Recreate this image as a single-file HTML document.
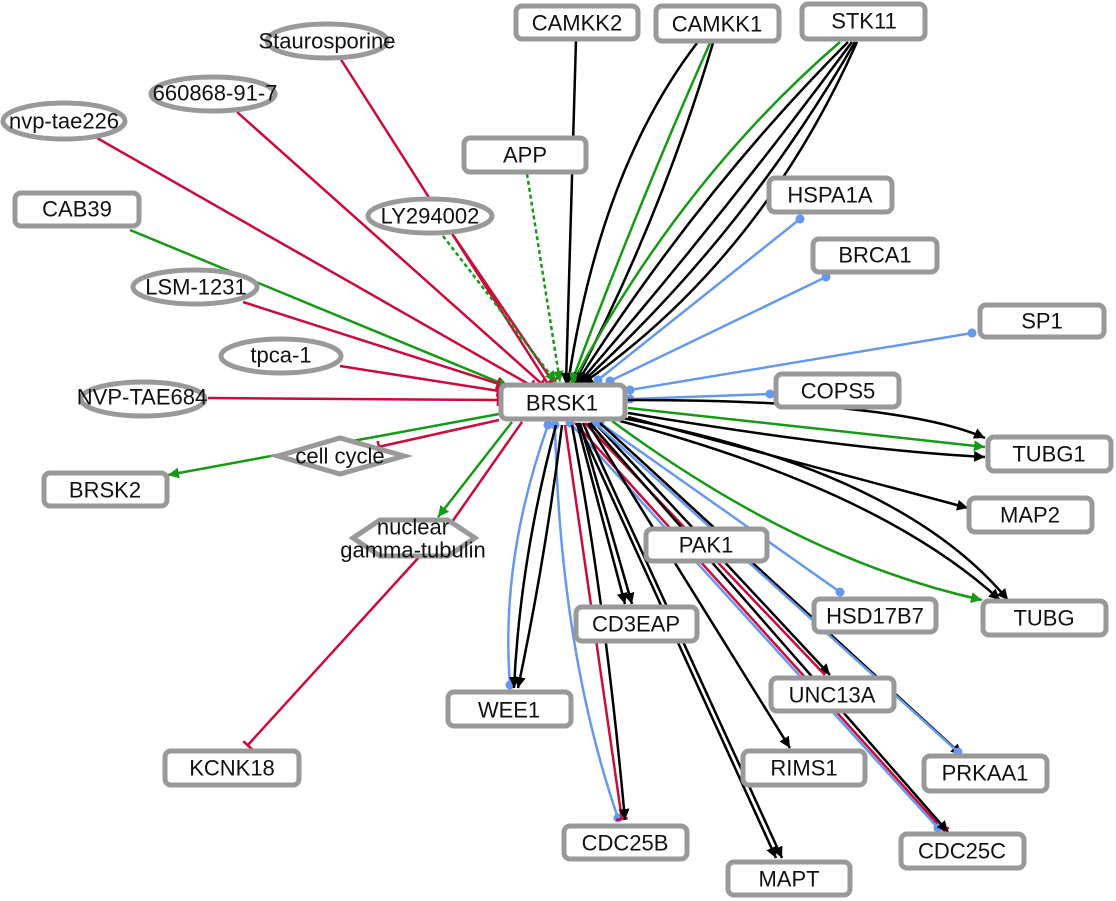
<!DOCTYPE html>
<html><head><meta charset="utf-8"><style>
html,body{margin:0;padding:0;background:#fff;}
svg{display:block;}
text{font-family:"Liberation Sans",sans-serif;font-size:22px;fill:#111;text-anchor:middle;dominant-baseline:central;}
.n{fill:#fff;stroke:#999;stroke-width:5;}
.k{stroke:#000;stroke-width:2.5;fill:none;}
.g{stroke:#169a16;stroke-width:2.5;fill:none;}
.r{stroke:#cc0a3c;stroke-width:2.5;fill:none;}
.b{stroke:#6699ee;stroke-width:2.5;fill:none;}
</style></head><body>
<svg width="1116" height="901" viewBox="0 0 1116 901" xmlns="http://www.w3.org/2000/svg">
<defs>
<marker id="ag" viewBox="0 0 10 10" refX="10" refY="5" markerWidth="11" markerHeight="11" orient="auto" markerUnits="userSpaceOnUse"><path d="M0,0L10,5L0,10z" fill="#169a16"/></marker>
<marker id="ab" viewBox="0 0 10 10" refX="10" refY="5" markerWidth="11" markerHeight="11" orient="auto" markerUnits="userSpaceOnUse"><path d="M0,0L10,5L0,10z" fill="#000"/></marker>
<marker id="tr" viewBox="0 0 4 12" refX="3" refY="6" markerWidth="4" markerHeight="12" orient="auto" markerUnits="userSpaceOnUse"><path d="M2,0V12" stroke="#cc0a3c" stroke-width="2.5"/></marker>
<marker id="db" viewBox="0 0 10 10" refX="5" refY="5" markerWidth="9" markerHeight="9" orient="auto" markerUnits="userSpaceOnUse"><circle cx="5" cy="5" r="5" fill="#6699ee"/></marker>
</defs>

<path class="r" d="M340,58 L548,384" marker-end="url(#tr)"/>
<path class="r" d="M237,112 L542,384" marker-end="url(#tr)"/>
<path class="r" d="M97,138 L532,386" marker-end="url(#tr)"/>
<path class="g" d="M130,230 L508,386" marker-end="url(#ag)"/>
<path class="r" d="M243,302 L499,384" marker-end="url(#tr)"/>
<path class="r" d="M340,366 L499,391" marker-end="url(#tr)"/>
<path class="r" d="M208,398 L499,400" marker-end="url(#tr)"/>
<path class="r" d="M453,235 L553,382" marker-end="url(#tr)"/>
<path class="g" d="M443,236 L556,382" stroke-dasharray="4,3" marker-end="url(#ag)"/>
<path class="g" d="M527,174 L560,382" stroke-dasharray="4,3" marker-end="url(#ag)"/>
<path class="k" d="M576,40 L566,384" marker-end="url(#ab)"/>
<path class="k" d="M697,43 Q600,170 568,384" marker-end="url(#ab)"/>
<path class="g" d="M710,43 Q640,200 571,384" marker-end="url(#ag)"/>
<path class="k" d="M713,43 Q660,220 574,384" marker-end="url(#ab)"/>
<path class="g" d="M840,42 Q680,180 572,384" marker-end="url(#ag)"/>
<path class="k" d="M848,42 Q700,190 576,384" marker-end="url(#ab)"/>
<path class="k" d="M852,42 Q720,220 578,384" marker-end="url(#ab)"/>
<path class="k" d="M855,42 Q740,240 580,384" marker-end="url(#ab)"/>
<path class="k" d="M857,42 Q760,260 582,384" marker-end="url(#ab)"/>
<path class="b" d="M800,219 L598,380" marker-start="url(#db)" marker-end="url(#db)"/>
<path class="b" d="M826,277 L610,381" marker-start="url(#db)" marker-end="url(#db)"/>
<path class="b" d="M972,333 L630,390" marker-start="url(#db)" marker-end="url(#db)"/>
<path class="b" d="M770,394 L630,399" marker-start="url(#db)" marker-end="url(#db)"/>
<path class="k" d="M628,400 Q900,400 985,438" marker-end="url(#ab)"/>
<path class="g" d="M628,408 L985,447" marker-end="url(#ag)"/>
<path class="k" d="M628,413 Q850,450 985,457" marker-end="url(#ab)"/>
<path class="k" d="M628,417 L968,508" marker-end="url(#ab)"/>
<path class="g" d="M612,421 Q800,560 982,600" marker-end="url(#ag)"/>
<path class="k" d="M620,421 Q880,490 1000,600" marker-end="url(#ab)"/>
<path class="k" d="M622,418 Q900,470 1008,600" marker-end="url(#ab)"/>
<path class="b" d="M600,423 L840,592" marker-start="url(#db)" marker-end="url(#db)"/>
<path class="k" d="M595,423 L830,675" marker-end="url(#ab)"/>
<path class="r" d="M585,423 L825,675"/>
<path class="k" d="M600,423 L962,755" marker-end="url(#ab)"/>
<path class="b" d="M595,423 L958,752" marker-start="url(#db)" marker-end="url(#db)"/>
<path class="r" d="M575,423 L945,832" marker-end="url(#tr)"/>
<path class="b" d="M570,423 L938,828" marker-start="url(#db)" marker-end="url(#db)"/>
<path class="k" d="M590,423 L948,832" marker-end="url(#ab)"/>
<path class="k" d="M588,423 L790,748" marker-end="url(#ab)"/>
<path class="k" d="M578,423 L776,858" marker-end="url(#ab)"/>
<path class="k" d="M583,423 L782,858" marker-end="url(#ab)"/>
<path class="k" d="M577,423 L625,604" marker-end="url(#ab)"/>
<path class="k" d="M580,423 L632,604" marker-end="url(#ab)"/>
<path class="b" d="M555,425 Q560,650 618,818" marker-start="url(#db)" marker-end="url(#db)"/>
<path class="r" d="M565,425 L622,820" marker-end="url(#tr)"/>
<path class="k" d="M572,425 Q605,600 625,820" marker-end="url(#ab)"/>
<path class="b" d="M548,425 Q500,560 510,685" marker-start="url(#db)" marker-end="url(#db)"/>
<path class="k" d="M556,425 Q520,560 514,688" marker-end="url(#ab)"/>
<path class="k" d="M562,425 Q545,560 518,688" marker-end="url(#ab)"/>
<path class="g" d="M499,414 L168,475" marker-end="url(#ag)"/>
<path class="r" d="M499,420 L378,447" marker-end="url(#tr)"/>
<path class="g" d="M512,422 L438,517" marker-end="url(#ag)"/>
<path class="r" d="M522,422 L452,522"/>
<path class="r" d="M420,556 L247,746" marker-end="url(#tr)"/>

<g>
<rect class="n" x="501" y="385" width="124" height="34" rx="6"/><text x="562" y="403">BRSK1</text>
<rect class="n" x="516" y="6" width="122" height="33" rx="6"/><text x="577" y="23">CAMKK2</text>
<rect class="n" x="656" y="6" width="123" height="35" rx="6"/><text x="717" y="24">CAMKK1</text>
<rect class="n" x="802" y="4" width="123" height="35" rx="6"/><text x="864" y="21">STK11</text>
<rect class="n" x="464" y="138" width="122" height="34" rx="6"/><text x="525" y="155">APP</text>
<rect class="n" x="769" y="178" width="123" height="34" rx="6"/><text x="830" y="195">HSPA1A</text>
<rect class="n" x="813" y="239" width="124" height="33" rx="6"/><text x="875" y="255">BRCA1</text>
<rect class="n" x="980" y="305" width="124" height="32" rx="6"/><text x="1042" y="321">SP1</text>
<rect class="n" x="776" y="374" width="123" height="33" rx="6"/><text x="838" y="391">COPS5</text>
<rect class="n" x="988" y="437" width="123" height="34" rx="6"/><text x="1049" y="454">TUBG1</text>
<rect class="n" x="969" y="498" width="123" height="34" rx="6"/><text x="1030" y="515">MAP2</text>
<rect class="n" x="983" y="601" width="123" height="34" rx="6"/><text x="1044" y="618">TUBG</text>
<rect class="n" x="646" y="529" width="121" height="32" rx="6"/><text x="706" y="545">PAK1</text>
<rect class="n" x="814" y="599" width="122" height="33" rx="6"/><text x="875" y="616">HSD17B7</text>
<rect class="n" x="576" y="607" width="121" height="34" rx="6"/><text x="636" y="624">CD3EAP</text>
<rect class="n" x="771" y="678" width="123" height="33" rx="6"/><text x="832" y="695">UNC13A</text>
<rect class="n" x="448" y="692" width="123" height="34" rx="6"/><text x="509" y="710">WEE1</text>
<rect class="n" x="924" y="756" width="123" height="35" rx="6"/><text x="985" y="773">PRKAA1</text>
<rect class="n" x="743" y="751" width="122" height="34" rx="6"/><text x="804" y="768">RIMS1</text>
<rect class="n" x="564" y="826" width="123" height="33" rx="6"/><text x="625" y="843">CDC25B</text>
<rect class="n" x="901" y="834" width="123" height="34" rx="6"/><text x="962" y="851">CDC25C</text>
<rect class="n" x="728" y="862" width="122" height="33" rx="6"/><text x="789" y="879">MAPT</text>
<rect class="n" x="165" y="751" width="134" height="34" rx="6"/><text x="232" y="768">KCNK18</text>
<rect class="n" x="44" y="473" width="123" height="33" rx="6"/><text x="105" y="490">BRSK2</text>
<rect class="n" x="15" y="193" width="124" height="33" rx="6"/><text x="77" y="209">CAB39</text>

<ellipse class="n" cx="327" cy="41" rx="60" ry="17"/><text x="327" y="41">Staurosporine</text>
<ellipse class="n" cx="213" cy="94" rx="62" ry="17"/><text x="215" y="93">660868-91-7</text>
<ellipse class="n" cx="64" cy="121" rx="61" ry="18"/><text x="64" y="121">nvp-tae226</text>
<ellipse class="n" cx="430" cy="216" rx="62" ry="17"/><text x="430" y="216">LY294002</text>
<ellipse class="n" cx="195" cy="287" rx="62" ry="17"/><text x="196" y="287">LSM-1231</text>
<ellipse class="n" cx="281" cy="356" rx="60" ry="17"/><text x="281" y="355">tpca-1</text>
<ellipse class="n" cx="143" cy="399" rx="62" ry="17"/><text x="142" y="397">NVP-TAE684</text>

<polygon class="n" points="278,456 340,438 404,456 340,474"/><text x="340" y="456">cell cycle</text>
<polygon class="n" points="353,538 380,520 448,520 475,538 448,556 380,556"/><text x="413" y="527">nuclear</text><text x="413" y="550">gamma-tubulin</text>
</g>
</svg>
</body></html>
